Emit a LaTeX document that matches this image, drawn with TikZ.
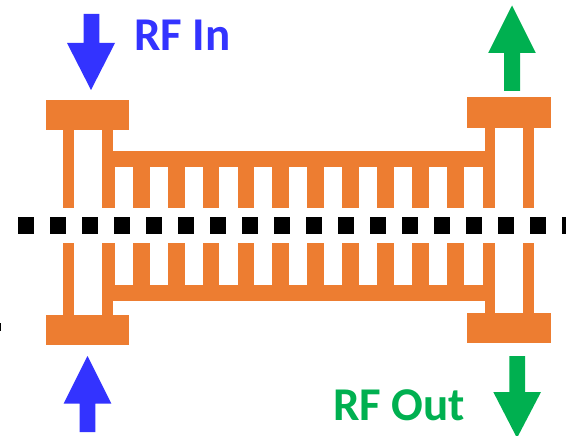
\documentclass[tikz,border=0pt]{standalone}
\usepackage{fontspec}
\setmainfont{Carlito}
\definecolor{strip}{HTML}{ED7D31}
\definecolor{rfblue}{HTML}{3333FF}
\definecolor{rfgreen}{HTML}{00B050}
\tikzset{
  metal/.style={fill=strip,draw=none},
  dot/.style={fill=black,draw=none},
  rflabel/.style={anchor=base west,inner sep=0pt,font=\bfseries\fontsize{47}{47}\selectfont},
  arrowin/.style={fill=rfblue,draw=none},
  arrowout/.style={fill=rfgreen,draw=none}
}
\begin{document}
\begin{tikzpicture}[x=1pt,y=-1pt]
\useasboundingbox (0,0) rectangle (566,436);
\clip (0,0) rectangle (566,436);
% centre line of squares
\foreach \k in {0,...,17}{
  \fill[dot] ({18+32*\k},217) rectangle ++(16,16.5);
}
% pads
\fill[metal] (46,100) rectangle (129,130);
\fill[metal] (46,315) rectangle (129,345);
\fill[metal] (467,97) rectangle (551,128);
\fill[metal] (467,313) rectangle (551,343);
% rails
\fill[metal] (113,151) rectangle (495,167);
\fill[metal] (113,285) rectangle (495,301);
% outer stems
\fill[metal] (63,130) rectangle (74,208);
\fill[metal] (63,243) rectangle (74,315);
\fill[metal] (523,128) rectangle (534,208);
\fill[metal] (523,243) rectangle (534,313);
% inner stems
\fill[metal] (102,130) rectangle (113,167);
\fill[metal] (102,167) rectangle (115,208);
\fill[metal] (102,243) rectangle (115,285);
\fill[metal] (102,285) rectangle (113,315);
\fill[metal] (485,128) rectangle (495,167);
\fill[metal] (483,167) rectangle (495,208);
\fill[metal] (483,243) rectangle (495,285);
\fill[metal] (485,285) rectangle (495,313);
% fingers
\foreach \k in {0,...,9}{
  \fill[metal] ({132.8+34.9*\k},167) rectangle ++(16.8,41);
  \fill[metal] ({132.8+34.9*\k},243) rectangle ++(16.8,42);
}
% arrows
\fill[arrowin] (83.7,14) -- (99.3,14) -- (99.3,43) -- (115,43) -- (91,90) -- (67,43) -- (83.7,43) -- cycle;
\fill[arrowin] (79.5,432) -- (95.3,432) -- (95.3,403.5) -- (111.3,403.5) -- (87.5,356) -- (63.7,403.5) -- (79.5,403.5) -- cycle;
\fill[arrowout] (504,91) -- (520,91) -- (520,53) -- (535.8,53) -- (512,5.5) -- (488.2,53) -- (504,53) -- cycle;
\fill[arrowout] (509.3,356) -- (525,356) -- (525,392) -- (541,392) -- (517,438) -- (493.3,392) -- (509.3,392) -- cycle;
% labels
\node[rflabel,text=rfblue] (rfin) at (134,51) {RF In};
\node[rflabel,text=rfgreen] (rfout) at (333,420) {RF Out};
% clipped fragment at the left edge
\fill[black] (0,322.5) rectangle (1.2,331);
\end{tikzpicture}
\end{document}
